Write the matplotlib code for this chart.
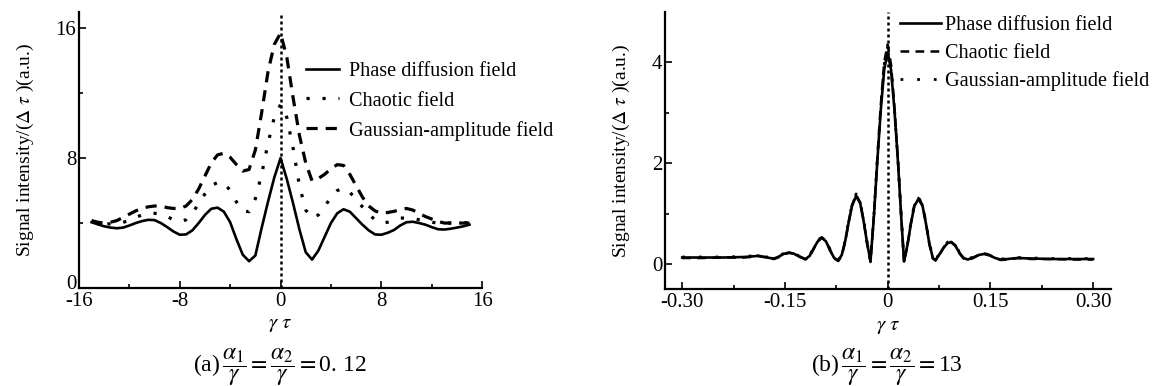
import numpy as np
import matplotlib.pyplot as plt
import matplotlib.transforms as mtransforms
from matplotlib.ticker import FixedLocator

plt.rcParams['font.family'] = ['Liberation Serif', 'DejaVu Serif']
plt.rcParams['mathtext.fontset'] = 'stix'
plt.rcParams['axes.unicode_minus'] = False

# --- panel (a) data, alpha/gamma = 0.12 ---
x_a = np.linspace(-15, 15, 61)
phase_a = [4.05, 3.92, 3.80, 3.72, 3.68, 3.72, 3.85, 4.00, 4.12, 4.20,
           4.18, 4.00, 3.75, 3.48, 3.28, 3.30, 3.55, 4.00, 4.50, 4.88,
           4.95, 4.70, 4.05, 3.00, 2.05, 1.65, 2.00, 3.70, 5.30, 6.80,
           8.00, 6.70, 5.20, 3.60, 2.20, 1.75, 2.30, 3.15, 4.00, 4.60,
           4.85, 4.70, 4.30, 3.90, 3.55, 3.30, 3.28, 3.40, 3.57, 3.85,
           4.05, 4.08, 4.00, 3.90, 3.75, 3.62, 3.60, 3.65, 3.72, 3.80,
           3.90]
chaotic_a = [4.10, 4.00, 3.95, 3.95, 4.00, 4.05, 4.15, 4.35, 4.50, 4.60,
             4.60, 4.55, 4.40, 4.20, 4.10, 4.20, 4.60, 5.20, 5.80, 6.30,
             6.50, 6.50, 6.00, 5.30, 4.75, 4.70, 5.50, 7.00, 8.90, 10.50,
             11.30, 10.50, 8.60, 6.30, 4.80, 4.30, 4.50, 5.00, 5.60, 6.00,
             6.15, 5.90, 5.45, 5.00, 4.55, 4.20, 4.00, 4.05, 4.20, 4.30,
             4.32, 4.30, 4.20, 4.10, 4.05, 4.00, 4.00, 4.00, 4.00, 4.00,
             4.05]
gauss_a = [4.15, 4.05, 4.00, 4.05, 4.15, 4.35, 4.55, 4.75, 4.90, 5.00,
           5.05, 5.05, 4.95, 4.90, 4.90, 5.05, 5.45, 6.10, 6.90, 7.70,
           8.20, 8.30, 8.05, 7.60, 7.20, 7.30, 8.50, 10.80, 13.30, 15.00,
           15.70, 14.20, 11.70, 9.40, 7.70, 6.60, 6.75, 7.00, 7.35, 7.60,
           7.55, 7.00, 6.30, 5.60, 5.05, 4.75, 4.60, 4.65, 4.72, 4.82,
           4.90, 4.80, 4.60, 4.40, 4.25, 4.10, 4.00, 4.00, 4.00, 4.00,
           4.00]

# --- panel (b) data, alpha/gamma = 13 ---
x_b = [-0.30, -0.27, -0.24, -0.21, -0.20, -0.19, -0.18, -0.172, -0.166, -0.16,
       -0.152, -0.144, -0.136, -0.128, -0.12, -0.114, -0.108, -0.102, -0.096, -0.090,
       -0.084, -0.078, -0.072, -0.067, -0.062, -0.057, -0.052, -0.046, -0.040, -0.035,
       -0.030, -0.025, -0.020, -0.015, -0.010, -0.005, 0.0, 0.005, 0.010, 0.015,
       0.020, 0.024, 0.029, 0.034, 0.039, 0.045, 0.051, 0.056, 0.061, 0.066,
       0.070, 0.076, 0.082, 0.088, 0.093, 0.099, 0.105, 0.111, 0.117, 0.125,
       0.133, 0.141, 0.149, 0.157, 0.165, 0.175, 0.19, 0.21, 0.24, 0.27,
       0.30]
phase_b = [0.13, 0.13, 0.13, 0.14, 0.15, 0.16, 0.14, 0.12, 0.11, 0.14,
           0.20, 0.23, 0.20, 0.14, 0.10, 0.16, 0.31, 0.45, 0.52, 0.45,
           0.27, 0.12, 0.07, 0.18, 0.45, 0.82, 1.15, 1.35, 1.20, 0.85,
           0.42, 0.06, 0.95, 2.05, 3.05, 3.85, 4.20, 3.85, 3.05, 2.05,
           0.90, 0.05, 0.38, 0.80, 1.15, 1.29, 1.15, 0.80, 0.40, 0.12,
           0.08, 0.20, 0.33, 0.42, 0.43, 0.36, 0.22, 0.12, 0.09, 0.13,
           0.18, 0.20, 0.17, 0.12, 0.09, 0.10, 0.12, 0.11, 0.10, 0.10,
           0.10]
chaotic_b = [0.12, 0.12, 0.13, 0.13, 0.14, 0.17, 0.14, 0.11, 0.10, 0.13,
             0.19, 0.22, 0.21, 0.15, 0.09, 0.15, 0.30, 0.46, 0.53, 0.46,
             0.28, 0.11, 0.06, 0.17, 0.44, 0.83, 1.17, 1.37, 1.22, 0.86,
             0.41, 0.04, 0.97, 2.10, 3.15, 4.00, 4.35, 3.95, 3.10, 2.08,
             0.92, 0.04, 0.37, 0.81, 1.16, 1.31, 1.17, 0.81, 0.39, 0.11,
             0.07, 0.19, 0.33, 0.43, 0.44, 0.37, 0.21, 0.11, 0.08, 0.12,
             0.18, 0.21, 0.18, 0.12, 0.08, 0.09, 0.12, 0.10, 0.10, 0.09,
             0.09]
gauss_b = [0.14, 0.14, 0.14, 0.15, 0.16, 0.17, 0.15, 0.13, 0.12, 0.15,
           0.21, 0.24, 0.21, 0.15, 0.11, 0.17, 0.32, 0.47, 0.54, 0.47,
           0.29, 0.13, 0.08, 0.19, 0.47, 0.85, 1.18, 1.39, 1.23, 0.88,
           0.44, 0.07, 0.98, 2.08, 3.10, 3.95, 4.30, 3.92, 3.08, 2.07,
           0.93, 0.06, 0.40, 0.83, 1.18, 1.32, 1.18, 0.83, 0.42, 0.13,
           0.09, 0.21, 0.35, 0.44, 0.45, 0.38, 0.23, 0.13, 0.10, 0.14,
           0.19, 0.21, 0.18, 0.13, 0.10, 0.11, 0.13, 0.12, 0.11, 0.11,
           0.11]

labels = ['Phase diffusion field', 'Chaotic field', 'Gaussian-amplitude field']
xticks_a = [-16, -8, 0, 8, 16]
yticks_a = [0, 8, 16]
xticks_b = [-0.30, -0.15, 0, 0.15, 0.30]
xticklabels_b = ['-0.30', '-0.15', '0', '0.15', '0.30']
yticks_b = [0, 2, 4]

FS = 15
LFS = 14.6
DOT = (0, (1, 4))
DASH = (0, (3.5, 2.5))

fig = plt.figure(figsize=(11.55, 3.86), dpi=100)
ax1 = fig.add_axes([0.0684, 0.2539, 0.349, 0.715])
ax2 = fig.add_axes([0.5758, 0.2505, 0.386, 0.7192])


def style_axes(ax):
    for s in ['top', 'right']:
        ax.spines[s].set_visible(False)
    for s in ['left', 'bottom']:
        ax.spines[s].set_linewidth(1.6)
    ax.tick_params(which='both', direction='in', labelsize=FS, width=1.2)
    ax.tick_params(which='major', length=5)
    ax.tick_params(axis='x', which='major', pad=3)
    ax.tick_params(axis='y', which='major', pad=2)
    ax.tick_params(which='minor', length=3)
    ax.axvline(0, color='black', lw=1.8, ls=(0, (1.2, 1.2)), zorder=1)
    ax.set_xlabel(r'$\gamma\ \tau$', fontsize=FS, labelpad=3)
    ax.set_ylabel(r'Signal intensity/($\Delta\ \tau$ )(a.u.)', fontsize=14, labelpad=14)


# (a)
ax1.plot(x_a, phase_a, color='black', lw=1.9, label=labels[0], zorder=3)
ax1.plot(x_a, chaotic_a, color='black', lw=2.3, ls=DOT, label=labels[1], zorder=2)
ax1.plot(x_a, gauss_a, color='black', lw=2.3, ls=DASH, label=labels[2], zorder=2)
ax1.set_xlim(-16, 16)
ax1.set_ylim(0, 17)
ax1.set_xticks(xticks_a)
ax1.set_yticks(yticks_a)
ax1.xaxis.set_minor_locator(FixedLocator([-12, -4, 4, 12]))
ax1.yaxis.set_minor_locator(FixedLocator([4, 12]))
style_axes(ax1)
# the "0" at the corner sits just above "-16"
lab0 = ax1.get_yticklabels()[0]
lab0.set_transform(lab0.get_transform() +
                   mtransforms.ScaledTranslation(0, 4 / 72, fig.dpi_scale_trans))
ax1.legend(loc='upper left', bbox_to_anchor=(306 / 1155, 1 - 62 / 386),
           bbox_transform=fig.transFigure, frameon=False, fontsize=LFS,
           handlelength=1.65, handletextpad=0.45, labelspacing=0.5,
           borderpad=0, borderaxespad=0)

# (b)
ax2.plot(x_b, gauss_b, color='black', lw=2.0, ls=(0, (1, 5)), label=labels[2], zorder=2)
ax2.plot(x_b, chaotic_b, color='black', lw=1.8, ls=DASH, label=labels[1], zorder=2)
ax2.plot(x_b, phase_b, color='black', lw=1.9, label=labels[0], zorder=3)
ax2.set_xlim(-0.325, 0.326)
ax2.set_ylim(-0.5, 5.0)
ax2.set_xticks(xticks_b)
ax2.set_xticklabels(xticklabels_b)
ax2.set_yticks(yticks_b)
ax2.xaxis.set_minor_locator(FixedLocator([-0.225, -0.075, 0.075, 0.225]))
ax2.yaxis.set_minor_locator(FixedLocator([1, 3]))
style_axes(ax2)
h, l = ax2.get_legend_handles_labels()
ax2.legend(h[::-1], l[::-1], loc='upper left', bbox_to_anchor=(900 / 1155, 1 - 16 / 386),
           bbox_transform=fig.transFigure, frameon=False, fontsize=LFS,
           handlelength=2.0, handletextpad=0.2, labelspacing=0.42,
           borderpad=0, borderaxespad=0)

# captions
fig.text(280 / 1155, 1 - 367 / 386,
         r'(a)$\,\dfrac{\alpha_1}{\gamma}=\dfrac{\alpha_2}{\gamma}=$0. 12',
         ha='center', va='center', fontsize=17)
fig.text(887 / 1155, 1 - 367 / 386,
         r'(b)$\,\dfrac{\alpha_1}{\gamma}=\dfrac{\alpha_2}{\gamma}=$13',
         ha='center', va='center', fontsize=17)

fig.savefig('out.png', dpi=100)
